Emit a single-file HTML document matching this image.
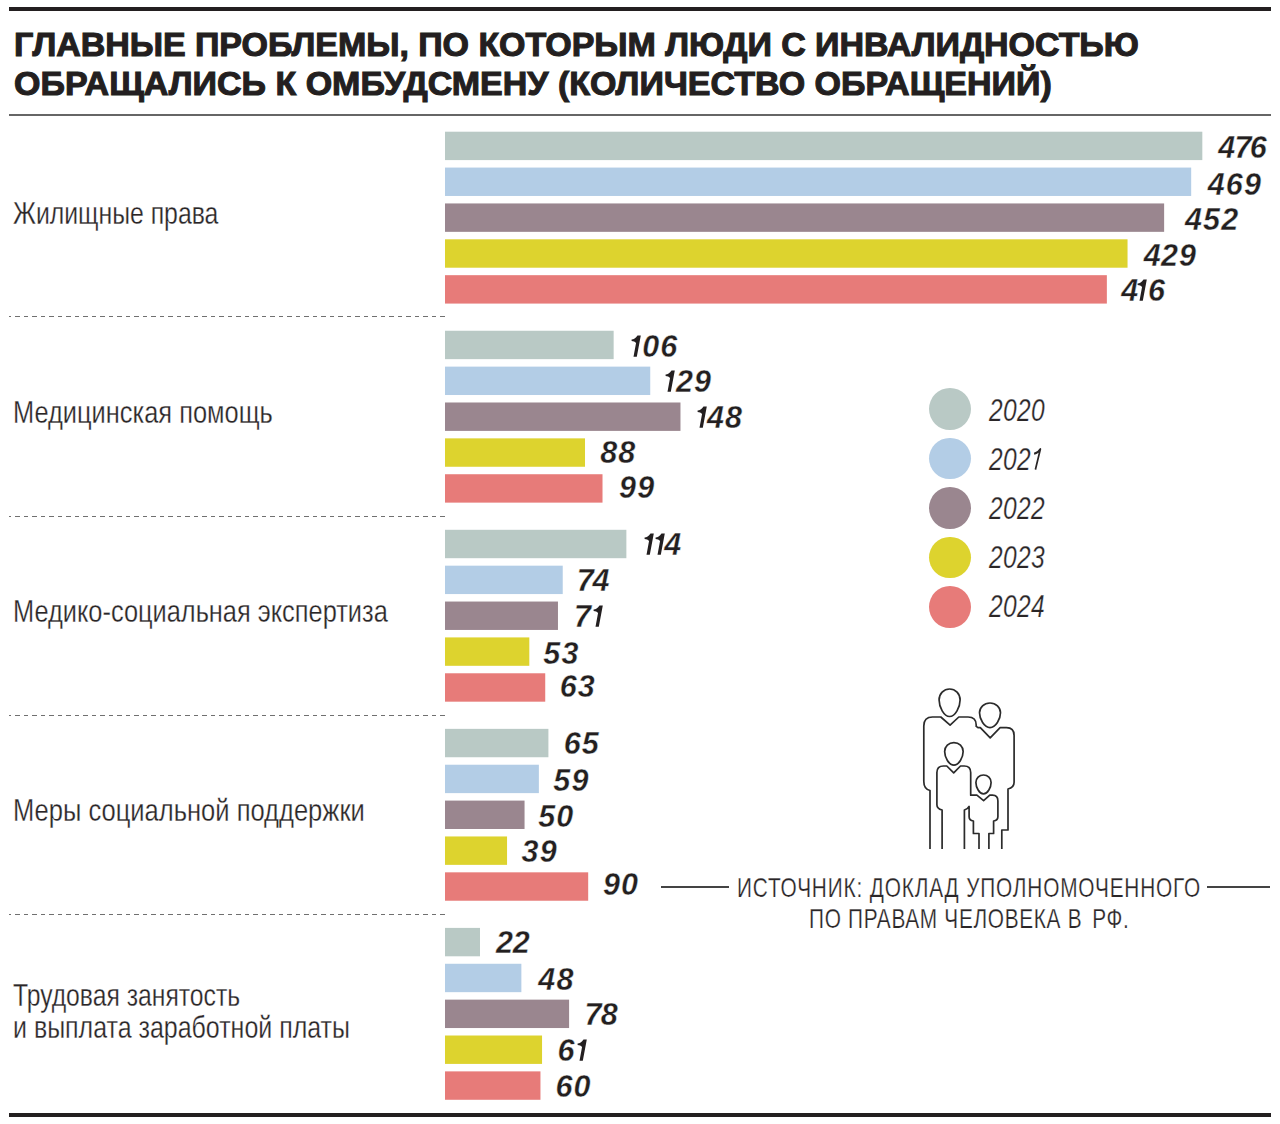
<!DOCTYPE html>
<html><head><meta charset="utf-8"><style>
html,body{margin:0;padding:0;background:#fff;}
body{width:1280px;height:1124px;position:relative;overflow:hidden;font-family:"Liberation Sans",sans-serif;color:#231f20;}
.a{position:absolute;}
.ln{position:absolute;background:#231f20;}
.t{position:absolute;white-space:nowrap;line-height:1;transform-origin:0 0;}
.title{font-weight:bold;font-size:34px;-webkit-text-stroke:1.1px #231f20;left:14px;}
.lab{font-size:32px;left:13.2px;color:#2a2627;-webkit-text-stroke:0.3px #fff;}
.num{font-weight:bold;font-style:italic;font-size:30.5px;letter-spacing:1.2px;-webkit-text-stroke:0.35px #fff;}
.one{display:inline-block;width:10.8px;height:22px;position:relative;vertical-align:baseline;}
.one svg{position:absolute;left:0;top:0;}
.onel{display:inline-block;width:10px;height:22px;position:relative;vertical-align:baseline;}
.onel svg{position:absolute;left:0;top:0;}
.bar{position:absolute;left:445px;}
.dash{position:absolute;left:8.75px;width:436px;height:1px;background:repeating-linear-gradient(90deg,#707070 0 2.25px,transparent 2.25px 6.25px,#707070 6.25px 8.5px);}
.yr{font-style:italic;font-size:30.7px;left:988.7px;transform:scaleX(0.8);color:#2a2627;letter-spacing:0.4px;-webkit-text-stroke:0.25px #fff;}
.dot{position:absolute;width:41.8px;height:41.8px;border-radius:50%;left:929.2px;}
.src{font-size:27.4px;transform:scaleX(0.76);letter-spacing:0.9px;color:#2a2627;-webkit-text-stroke:0.25px #fff;}
</style></head><body>

<div class="ln" style="left:9px;top:7px;width:1262px;height:3.6px"></div>
<div class="ln" style="left:9px;top:113.5px;width:1262px;height:2px;background:#666"></div>
<div class="ln" style="left:9px;top:1113px;width:1262px;height:4px"></div>
<div class="t title" style="top:27.1px;letter-spacing:-0.05px">ГЛАВНЫЕ ПРОБЛЕМЫ, ПО КОТОРЫМ ЛЮДИ С ИНВАЛИДНОСТЬЮ</div>
<div class="t title" style="top:65.7px">ОБРАЩАЛИСЬ К ОМБУДСМЕНУ (КОЛИЧЕСТВО ОБРАЩЕНИЙ)</div>
<div class="t lab" style="top:197.4px;transform:scaleX(0.775)">Жилищные права</div>
<div class="t num" style="left:1218.3px;top:132.1px"><span style="letter-spacing:-0.8px">4</span><span style="letter-spacing:-1.8px">7</span>6</div>
<div class="t num" style="left:1207.7px;top:168.7px">469</div>
<div class="t num" style="left:1184.9px;top:204.3px">452</div>
<div class="t num" style="left:1143.8px;top:240.2px"><span style="letter-spacing:0.1px">4</span>29</div>
<div class="t num" style="left:1121.2px;top:274.8px"><span style="letter-spacing:-0.9px">4</span><span class="one"><svg width="12" height="22" viewBox="0 0 12 22"><path d="M0.6 4.6C2.7 4.4 4.7 3.1 6.5 0.5H9.8L5.8 21.8H2.5L5.05 8.0C4.3 6.7 2.3 6.0 0.6 5.9Z" fill="#231f20"/></svg></span>6</div>
<div class="dash" style="top:316px"></div>
<div class="t lab" style="top:396.4px;transform:scaleX(0.794)">Медицинская помощь</div>
<div class="t num" style="left:631.4px;top:330.7px"><span class="one"><svg width="12" height="22" viewBox="0 0 12 22"><path d="M0.6 4.6C2.7 4.4 4.7 3.1 6.5 0.5H9.8L5.8 21.8H2.5L5.05 8.0C4.3 6.7 2.3 6.0 0.6 5.9Z" fill="#231f20"/></svg></span>06</div>
<div class="t num" style="left:665.1px;top:366.1px"><span class="one"><svg width="12" height="22" viewBox="0 0 12 22"><path d="M0.6 4.6C2.7 4.4 4.7 3.1 6.5 0.5H9.8L5.8 21.8H2.5L5.05 8.0C4.3 6.7 2.3 6.0 0.6 5.9Z" fill="#231f20"/></svg></span>29</div>
<div class="t num" style="left:697.3px;top:402.3px"><span class="one" style="width:9.6px"><svg width="12" height="22" viewBox="0 0 12 22"><path d="M0.6 4.6C2.7 4.4 4.7 3.1 6.5 0.5H9.8L5.8 21.8H2.5L5.05 8.0C4.3 6.7 2.3 6.0 0.6 5.9Z" fill="#231f20"/></svg></span>48</div>
<div class="t num" style="left:600.2px;top:436.8px">88</div>
<div class="t num" style="left:619.0px;top:472.0px">99</div>
<div class="dash" style="top:516px"></div>
<div class="t lab" style="top:595.4px;transform:scaleX(0.793)">Медико-социальная экспертиза</div>
<div class="t num" style="left:643.9px;top:529.1px"><span class="one"><svg width="12" height="22" viewBox="0 0 12 22"><path d="M0.6 4.6C2.7 4.4 4.7 3.1 6.5 0.5H9.8L5.8 21.8H2.5L5.05 8.0C4.3 6.7 2.3 6.0 0.6 5.9Z" fill="#231f20"/></svg></span><span class="one" style="width:9.6px"><svg width="12" height="22" viewBox="0 0 12 22"><path d="M0.6 4.6C2.7 4.4 4.7 3.1 6.5 0.5H9.8L5.8 21.8H2.5L5.05 8.0C4.3 6.7 2.3 6.0 0.6 5.9Z" fill="#231f20"/></svg></span>4</div>
<div class="t num" style="left:576.7px;top:565.1px"><span style="letter-spacing:-1.2px">7</span>4</div>
<div class="t num" style="left:573.9px;top:601.3px"><span style="letter-spacing:2.6px">7</span><span class="one"><svg width="12" height="22" viewBox="0 0 12 22"><path d="M0.6 4.6C2.7 4.4 4.7 3.1 6.5 0.5H9.8L5.8 21.8H2.5L5.05 8.0C4.3 6.7 2.3 6.0 0.6 5.9Z" fill="#231f20"/></svg></span></div>
<div class="t num" style="left:543.3px;top:637.8px">53</div>
<div class="t num" style="left:559.7px;top:671.0px">63</div>
<div class="dash" style="top:715px"></div>
<div class="t lab" style="top:794.4px;transform:scaleX(0.798)">Меры социальной поддержки</div>
<div class="t num" style="left:563.7px;top:727.9px">65</div>
<div class="t num" style="left:553.3px;top:764.5px">59</div>
<div class="t num" style="left:538.2px;top:800.5px">50</div>
<div class="t num" style="left:521.6px;top:835.8px">39</div>
<div class="t num" style="left:602.9px;top:869.0px">90</div>
<div class="dash" style="top:914px"></div>
<div class="t lab" style="top:978.5px;transform:scaleX(0.772)">Трудовая занятость</div>
<div class="t lab" style="top:1011.3px;transform:scaleX(0.78)">и выплата заработной платы</div>
<div class="t num" style="left:496.0px;top:926.6px"><span style="letter-spacing:-0.2px">2</span>2</div>
<div class="t num" style="left:538.3px;top:963.9px">48</div>
<div class="t num" style="left:584.5px;top:998.5px"><span style="letter-spacing:-0.8px">7</span>8</div>
<div class="t num" style="left:557.5px;top:1035.2px"><span style="letter-spacing:2.2px">6</span><span class="one"><svg width="12" height="22" viewBox="0 0 12 22"><path d="M0.6 4.6C2.7 4.4 4.7 3.1 6.5 0.5H9.8L5.8 21.8H2.5L5.05 8.0C4.3 6.7 2.3 6.0 0.6 5.9Z" fill="#231f20"/></svg></span></div>
<div class="t num" style="left:555.4px;top:1071.2px">60</div>
<svg class="a" style="left:0;top:0" width="1280" height="1124" viewBox="0 0 1280 1124"><rect x="445" y="131.70" width="757.32" height="28.4" fill="#b9c9c5"/><rect x="445" y="167.57" width="746.18" height="28.4" fill="#b3cde6"/><rect x="445" y="203.44" width="719.13" height="28.4" fill="#9a868f"/><rect x="445" y="239.31" width="682.54" height="28.4" fill="#ddd32e"/><rect x="445" y="275.18" width="661.86" height="28.4" fill="#e77b79"/><rect x="445" y="330.75" width="168.65" height="28.4" fill="#b9c9c5"/><rect x="445" y="366.62" width="205.24" height="28.4" fill="#b3cde6"/><rect x="445" y="402.49" width="235.47" height="28.4" fill="#9a868f"/><rect x="445" y="438.36" width="140.01" height="28.4" fill="#ddd32e"/><rect x="445" y="474.23" width="157.51" height="28.4" fill="#e77b79"/><rect x="445" y="529.80" width="181.37" height="28.4" fill="#b9c9c5"/><rect x="445" y="565.67" width="117.73" height="28.4" fill="#b3cde6"/><rect x="445" y="601.54" width="112.96" height="28.4" fill="#9a868f"/><rect x="445" y="637.41" width="84.32" height="28.4" fill="#ddd32e"/><rect x="445" y="673.28" width="100.23" height="28.4" fill="#e77b79"/><rect x="445" y="728.85" width="103.41" height="28.4" fill="#b9c9c5"/><rect x="445" y="764.72" width="93.87" height="28.4" fill="#b3cde6"/><rect x="445" y="800.59" width="79.55" height="28.4" fill="#9a868f"/><rect x="445" y="836.46" width="62.05" height="28.4" fill="#ddd32e"/><rect x="445" y="872.33" width="143.19" height="28.4" fill="#e77b79"/><rect x="445" y="927.90" width="35.00" height="28.4" fill="#b9c9c5"/><rect x="445" y="963.77" width="76.37" height="28.4" fill="#b3cde6"/><rect x="445" y="999.64" width="124.10" height="28.4" fill="#9a868f"/><rect x="445" y="1035.51" width="97.05" height="28.4" fill="#ddd32e"/><rect x="445" y="1071.38" width="95.46" height="28.4" fill="#e77b79"/></svg>
<div class="dot" style="top:387.9px;background:#b9c9c5"></div>
<div class="t yr" style="top:395.9px">2020</div>
<div class="dot" style="top:437.5px;background:#b3cde6"></div>
<div class="t yr" style="top:444.8px">202<span class="onel"><svg width="15" height="22" viewBox="0 0 15 22"><path d="M4.4 5.7C8.4 4.8 11.0 3.0 12.2 1.1L6.0 21.6" stroke="#2a2627" stroke-width="2.1" stroke-linejoin="round" fill="none"/></svg></span></div>
<div class="dot" style="top:487.1px;background:#9a868f"></div>
<div class="t yr" style="top:493.7px">2022</div>
<div class="dot" style="top:536.7px;background:#ddd32e"></div>
<div class="t yr" style="top:542.6px">2023</div>
<div class="dot" style="top:586.3px;background:#e77b79"></div>
<div class="t yr" style="top:591.5px">2024</div>
<div class="ln" style="left:661px;top:886px;width:68px;height:1.5px;background:#444"></div>
<div class="ln" style="left:1207px;top:886px;width:63px;height:1.5px;background:#444"></div>
<div class="t src" style="left:737.2px;letter-spacing:1.1px;top:874.3px">ИСТОЧНИК: ДОКЛАД УПОЛНОМОЧЕННОГО</div>
<div class="t src" style="left:809px;top:904.8px">ПО ПРАВАМ ЧЕЛОВЕКА В <span style="margin-left:4.6px">РФ.</span></div>
<svg class="a" style="left:0;top:0" width="1280" height="1124" viewBox="0 0 1280 1124" fill="none" stroke="#2b2b2b" stroke-width="1.7" stroke-linejoin="round">
<path d="M949.60 689.00C955.48 689.00 960.10 693.84 960.10 700.00C960.10 706.93 955.38 716.50 949.60 716.50C943.83 716.50 939.10 706.93 939.10 700.00C939.10 693.84 943.72 689.00 949.60 689.00Z"/>
<path d="M990.00 703.00C995.88 703.00 1000.50 707.33 1000.50 712.84C1000.50 719.04 995.77 727.60 990.00 727.60C984.23 727.60 979.50 719.04 979.50 712.84C979.50 707.33 984.12 703.00 990.00 703.00Z"/>
<path d="M953.90 742.60C959.08 742.60 963.15 746.56 963.15 751.60C963.15 757.27 958.99 765.10 953.90 765.10C948.81 765.10 944.65 757.27 944.65 751.60C944.65 746.56 948.72 742.60 953.90 742.60Z"/>
<path d="M983.50 775.00C987.76 775.00 991.10 778.33 991.10 782.56C991.10 787.32 987.68 793.90 983.50 793.90C979.32 793.90 975.90 787.32 975.90 782.56C975.90 778.33 979.24 775.00 983.50 775.00Z"/>
<path d="M930 849V790.5C926 789.5 923.8 786.5 923.8 781.5V726Q923.8 717 932.5 717H940.8L950.1 725.1L958.8 717H968Q976.2 717 976.2 725V726.4L978.2 727.7H980.3L990.2 737.8L1000.1 727.7H1006.5Q1014.1 727.7 1014.1 735.5V782.3C1014.1 786 1011.5 788.3 1008 789V830H1001.8V849"/>
<path d="M942.1 849V810C938.9 809.2 936.9 807.3 936.9 804.7V772.5Q936.9 766 943.5 766H946.8L953.7 772.9L960.5 766H964.3Q970.7 766 970.7 772.5V795.2H976.9L983.6 800.6L989.8 795.2H992.5Q997.9 795.2 997.9 801V816.7C997.9 819 996.3 820.6 993.6 821V833.5H988.9V849"/>
<path d="M964.4 849V810C966.5 809.5 968.2 808.3 969.1 806.4V816.7C969.1 819 970.9 820.6 973.4 821V833.5H979V849"/>
</svg>
</body></html>
